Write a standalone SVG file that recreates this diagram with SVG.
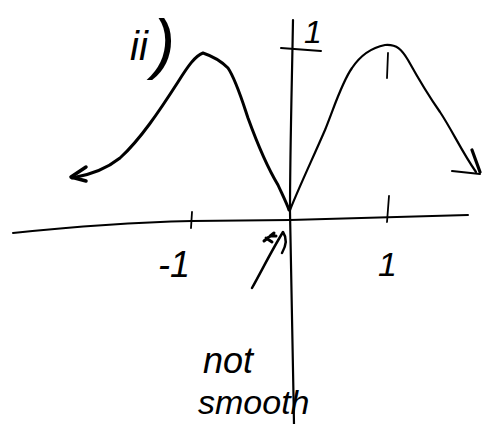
<svg xmlns="http://www.w3.org/2000/svg" width="482" height="424" viewBox="0 0 482 424">
<style>
.ink{fill:none;stroke:#000;stroke-linecap:round;stroke-linejoin:round}
.hand{font-family:"Liberation Sans","DejaVu Sans",sans-serif;font-style:italic;fill:#000}
</style>
<rect width="482" height="424" fill="#fff"/>
<!-- axes -->
<path class="ink" stroke-width="2" d="M13,233 C80,226 150,222 192,221 L290,220 L468,215"/>
<path class="ink" stroke-width="2.2" d="M293,20 C292,80 290,150 290,212 C291,300 293,360 294,424"/>
<!-- ticks -->
<path class="ink" stroke-width="2" d="M281,48 L321,51"/>
<path class="ink" stroke-width="1.8" d="M192,212 L191,228"/>
<path class="ink" stroke-width="1.8" d="M389,196 L387,222"/>
<path class="ink" stroke-width="1.8" d="M388,53 L387,78"/>
<!-- left curve -->
<path class="ink" stroke-width="3" d="M72,178 C90,175 105,170 120,158 C140,140 160,110 178,82 C188,66 195,56 203,53 C212,56 222,62 228,68 C236,80 242,100 248,118 C256,140 266,165 278,185 C283,196 287,204 289,210"/>
<path class="ink" stroke-width="3.5" d="M86,167 L71,177 L86,181"/>
<!-- right curve -->
<path class="ink" stroke-width="2.2" d="M290,210 C300,185 312,160 325,130 C335,105 342,82 352,68 C360,56 370,48 385,45 C397,44 402,50 408,60 C418,78 428,95 440,112 C452,130 462,152 476,172"/>
<path class="ink" stroke-width="2" d="M452,171 L480,174"/>
<path class="ink" stroke-width="3.2" d="M472,150 L480,172"/>
<!-- arrow near origin -->
<path class="ink" stroke-width="2.5" d="M252,288 C262,270 272,250 283,232 C287,238 286,246 282,253"/>
<path class="ink" stroke-width="3" d="M274,233 L264,241 M266,238 L272,242 M270,236 L276,236"/>
<!-- labels -->
<text class="hand" x="130" y="60" font-size="40">ii</text>
<text class="hand" x="153" y="66" font-size="66">)</text>
<text class="hand" x="304" y="43" font-size="32">1</text>
<text class="hand" x="158" y="277" font-size="36">-1</text>
<text class="hand" x="378" y="276" font-size="34">1</text>
<text class="hand" x="203" y="373" font-size="36">not</text>
<text class="hand" x="198" y="414" font-size="34">smooth</text>
</svg>
